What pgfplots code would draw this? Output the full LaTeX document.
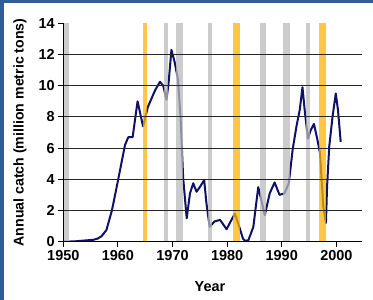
\documentclass[border=0pt]{standalone}
\usepackage{pgfplots}
\pgfplotsset{compat=1.18}
\usepackage{fontspec}
\setmainfont{Liberation Sans}
\definecolor{framecol}{RGB}{46,94,150}
\definecolor{bandgray}{RGB}{187,187,187}
\definecolor{bandyel}{RGB}{255,182,0}
\definecolor{linecol}{RGB}{16,16,100}
\begin{document}
\begin{tikzpicture}
\useasboundingbox (-63.3bp,-58.3bp) rectangle (309.7bp,241.7bp);
\fill[white] (-63.3bp,-58.3bp) rectangle (309.7bp,241.7bp);
\fill[framecol] (-63.3bp,238.2bp) rectangle (309.7bp,241.7bp);
\fill[framecol] (-63.3bp,-58.3bp) rectangle (-59.6bp,241.7bp);
\begin{axis}[
  at={(0,0)}, anchor=south west,
  scale only axis, width=298.7bp, height=218.4bp,
  xmin=1950, xmax=2004.7, ymin=0, ymax=14,
  axis x line*=bottom, axis y line*=left,
  axis line style={black, line width=0.9bp},
  xtick={1950,1960,...,2000},
  ytick={0,2,...,12},
  extra y ticks={14},
  extra y tick style={ymajorgrids=false},
  ymajorgrids,
  grid style={black!85, line width=0.9bp},
  axis on top,
  tick align=outside,
  major tick length=5bp,
  tick style={black, line width=0.9bp},
  /pgf/number format/assume math mode=true,
  /pgf/number format/1000 sep={},
  tick label style={font=\bfseries\fontsize{14.5}{16}\selectfont},
  xlabel={Year},
  ylabel={Annual catch (million metric tons)},
  every axis x label/.style={at={(axis description cs:0.491,-0.206)}, anchor=center, font=\bfseries\fontsize{14.5}{16}\selectfont},
  every axis y label/.style={at={(axis description cs:-0.145,0.5)}, rotate=90, anchor=center, font=\bfseries\fontsize{14.2}{16}\selectfont},
]
\addplot[linecol, line width=2bp, line join=round] coordinates {
(1950.0,0) (1952,0.02) (1954,0.08) (1955.5,0.12) (1956.3,0.2) (1957,0.35)
(1957.9,0.75) (1958.9,2.0) (1959.6,3.2) (1960.4,4.6) (1961.3,6.2) (1961.9,6.7)
(1962.7,6.7) (1963.6,9.0) (1964.6,7.4) (1965.5,8.65) (1966.8,9.7) (1967.7,10.25)
(1968.3,10.0) (1968.9,9.1) (1969.3,10.25) (1969.8,12.3) (1970.4,11.5) (1971.0,10.4)
(1971.5,7.8) (1971.95,4.1) (1972.6,1.5) (1973.2,3.1) (1973.8,3.75) (1974.4,3.2)
(1975.0,3.5) (1975.8,3.95) (1976.2,2.5) (1976.8,0.95) (1977.7,1.3) (1978.7,1.4)
(1979.9,0.8) (1980.8,1.4) (1981.4,1.8) (1982.1,1.1) (1982.9,0.2) (1983.3,0.05)
(1983.9,0.1) (1984.8,0.95) (1985.7,3.5) (1986.9,1.7) (1987.8,3.1) (1988.7,3.8)
(1989.6,3.0) (1990.5,3.1) (1991.3,3.75) (1992.0,5.9) (1992.7,7.4) (1993.3,8.45)
(1993.8,9.9) (1994.2,8.45) (1994.8,6.6) (1995.3,7.15) (1995.9,7.55) (1996.5,6.6)
(1997.0,5.7) (1997.6,2.3) (1998.1,1.2) (1998.3,3.5) (1998.7,6.1) (1999.3,8.0)
(1999.9,9.5) (2000.3,8.45) (2000.8,6.4)
};
% El Nino bands
\addplot[fill=bandgray, fill opacity=0.75, draw=none] coordinates {(1950.2,14) (1951.05,14)} \closedcycle;
\addplot[fill=bandyel, fill opacity=0.75, draw=none] coordinates {(1964.55,14) (1965.35,14)} \closedcycle;
\addplot[fill=bandgray, fill opacity=0.75, draw=none] coordinates {(1968.35,14) (1969.1,14)} \closedcycle;
\addplot[fill=bandgray, fill opacity=0.75, draw=none] coordinates {(1970.6,14) (1971.85,14)} \closedcycle;
\addplot[fill=bandgray, fill opacity=0.75, draw=none] coordinates {(1976.5,14) (1977.2,14)} \closedcycle;
\addplot[fill=bandyel, fill opacity=0.75, draw=none] coordinates {(1981.05,14) (1982.3,14)} \closedcycle;
\addplot[fill=bandgray, fill opacity=0.75, draw=none] coordinates {(1986.0,14) (1987.2,14)} \closedcycle;
\addplot[fill=bandgray, fill opacity=0.75, draw=none] coordinates {(1990.25,14) (1991.45,14)} \closedcycle;
\addplot[fill=bandgray, fill opacity=0.75, draw=none] coordinates {(1994.4,14) (1995.1,14)} \closedcycle;
\addplot[fill=bandyel, fill opacity=0.75, draw=none] coordinates {(1996.8,14) (1998.05,14)} \closedcycle;
\end{axis}
\end{tikzpicture}
\end{document}
